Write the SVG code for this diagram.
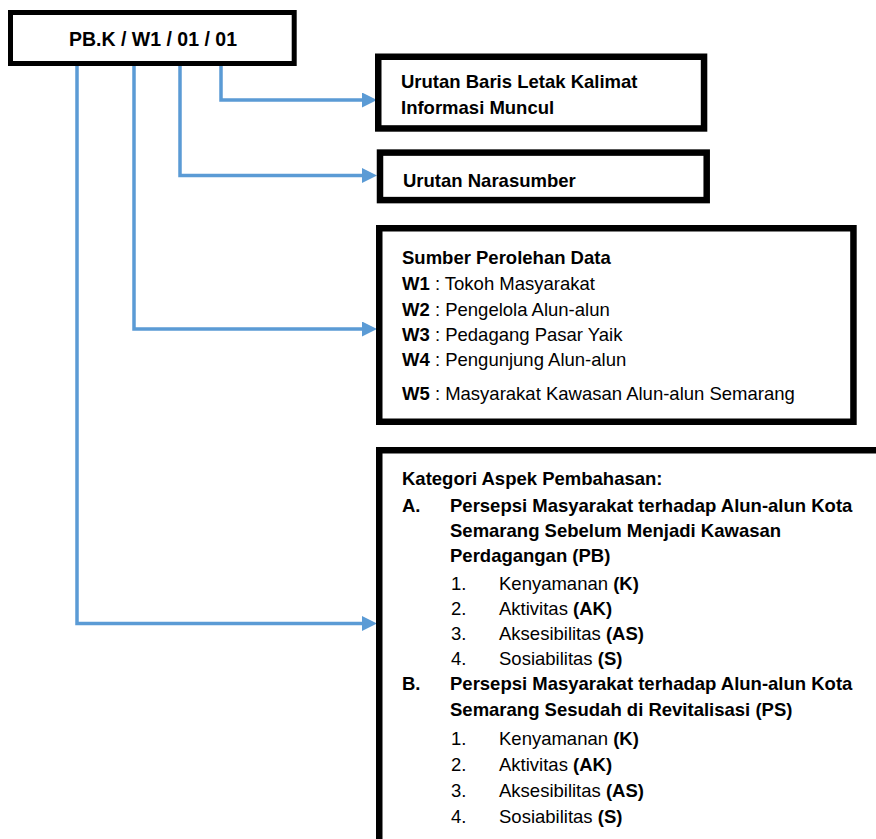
<svg xmlns="http://www.w3.org/2000/svg" width="876" height="839" viewBox="0 0 876 839">
<style>
.box{fill:#fff;stroke:#000;stroke-width:6.5}
.t{font-family:"Liberation Sans",Arial,sans-serif;font-size:18.5px;fill:#000}
.b{font-weight:bold}
.con{fill:none;stroke:#5B9BD5;stroke-width:3.5;marker-end:url(#arr)}
</style>
<defs>
<marker id="arr" viewBox="0 0 15 15" refX="8" refY="7.5" markerWidth="15" markerHeight="15" markerUnits="userSpaceOnUse" orient="auto">
<path d="M0,0 L15,7.5 L0,15 Z" fill="#5B9BD5"/>
</marker>
</defs>
<rect width="876" height="839" fill="#fff"/>
<g id="connectors">
<path class="con" d="M221,66 V100 H370"/>
<path class="con" d="M180,66 V175.5 H370"/>
<path class="con" d="M134,66 V329 H370"/>
<path class="con" d="M77,66 V623.5 H370"/>
</g>
<g id="code">
<rect x="10.5" y="12.5" width="283.7" height="51" fill="#fff" stroke="#000" stroke-width="5"/>
<text class="t b" x="153" y="46" text-anchor="middle" style="font-size:19.5px">PB.K / W1 / 01 / 01</text>
</g>
<g id="urutan-baris">
<rect class="box" x="378.25" y="56.75" width="325.8" height="71.7"/>
<text class="t b" x="401" y="88">Urutan Baris Letak Kalimat</text>
<text class="t b" x="401" y="114">Informasi Muncul</text>
</g>
<g id="urutan-narasumber">
<rect class="box" x="380" y="152.6" width="326.7" height="47.5"/>
<text class="t b" x="403" y="187">Urutan Narasumber</text>
</g>
<g id="sumber">
<rect class="box" x="379.25" y="228.25" width="474.2" height="193.5"/>
<text class="t b" x="402" y="264">Sumber Perolehan Data</text>
<text class="t" x="402" y="290"><tspan class="b">W1</tspan> : Tokoh Masyarakat</text>
<text class="t" x="402" y="316"><tspan class="b">W2</tspan> : Pengelola Alun-alun</text>
<text class="t" x="402" y="341"><tspan class="b">W3</tspan> : Pedagang Pasar Yaik</text>
<text class="t" x="402" y="366"><tspan class="b">W4</tspan> : Pengunjung Alun-alun</text>
<text class="t" x="402" y="400"><tspan class="b">W5</tspan> : Masyarakat Kawasan Alun-alun Semarang</text>
</g>
<g id="kategori">
<rect class="box" x="379.25" y="450.25" width="600" height="500"/>
<text class="t b" x="402" y="485">Kategori Aspek Pembahasan:</text>
<text class="t b" x="402" y="512">A.</text>
<text class="t b" x="450" y="512">Persepsi Masyarakat terhadap Alun-alun Kota</text>
<text class="t b" x="450" y="537">Semarang Sebelum Menjadi Kawasan</text>
<text class="t b" x="450" y="562">Perdagangan (PB)</text>
<text class="t" x="451" y="589.5">1.</text><text class="t" x="499" y="589.5">Kenyamanan <tspan class="b">(K)</tspan></text>
<text class="t" x="451" y="615">2.</text><text class="t" x="499" y="615">Aktivitas <tspan class="b">(AK)</tspan></text>
<text class="t" x="451" y="640">3.</text><text class="t" x="499" y="640">Aksesibilitas <tspan class="b">(AS)</tspan></text>
<text class="t" x="451" y="665">4.</text><text class="t" x="499" y="665">Sosiabilitas <tspan class="b">(S)</tspan></text>
<text class="t b" x="402" y="690">B.</text>
<text class="t b" x="450" y="690">Persepsi Masyarakat terhadap Alun-alun Kota</text>
<text class="t b" x="450" y="716">Semarang Sesudah di Revitalisasi (PS)</text>
<text class="t" x="451" y="745">1.</text><text class="t" x="499" y="745">Kenyamanan <tspan class="b">(K)</tspan></text>
<text class="t" x="451" y="771">2.</text><text class="t" x="499" y="771">Aktivitas <tspan class="b">(AK)</tspan></text>
<text class="t" x="451" y="797">3.</text><text class="t" x="499" y="797">Aksesibilitas <tspan class="b">(AS)</tspan></text>
<text class="t" x="451" y="823">4.</text><text class="t" x="499" y="823">Sosiabilitas <tspan class="b">(S)</tspan></text>
</g>
</svg>
